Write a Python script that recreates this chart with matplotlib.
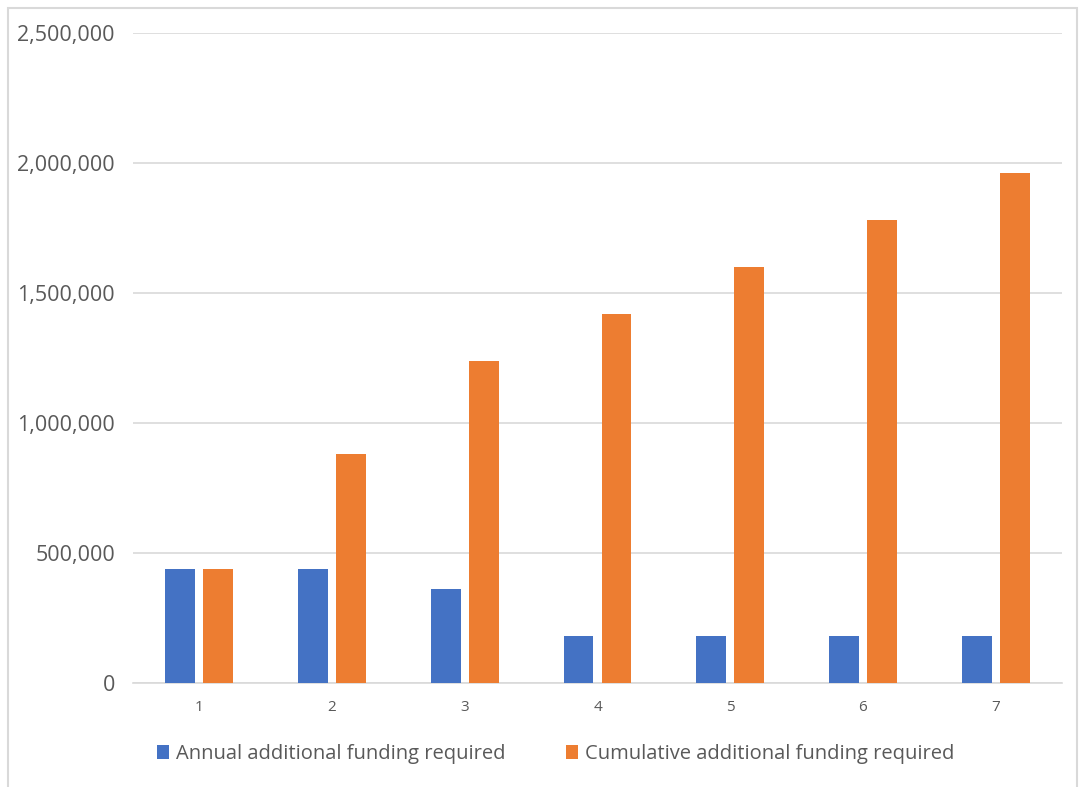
import matplotlib
matplotlib.use("Agg")
import matplotlib.pyplot as plt
import numpy as np
from matplotlib.patches import Patch, Rectangle
from matplotlib.ticker import FuncFormatter

categories = ["1", "2", "3", "4", "5", "6", "7"]
annual = [440000, 440000, 360000, 180000, 180000, 180000, 180000]
cumulative = [440000, 880000, 1240000, 1420000, 1600000, 1780000, 1960000]
series_names = ["Annual additional funding required", "Cumulative additional funding required"]

blue = "#4472C4"
orange = "#ED7D31"
grid_c = "#D9D9D9"
text_c = "#595959"

plt.rcParams['font.family'] = ['Open Sans', 'DejaVu Sans']

fig = plt.figure(figsize=(10.79, 7.87), dpi=100)
ax = fig.add_axes([133/1079, 1-683/787, (1062-133)/1079, (683-33)/787])

x = np.arange(len(categories))
w = 0.225
off = 0.143
ax.bar(x - off, annual, width=w, color=blue, zorder=3)
ax.bar(x + off, cumulative, width=w, color=orange, zorder=3)

ax.set_xlim(-0.5, len(categories) - 0.5)
ax.set_ylim(0, 2500000)
ax.set_yticks(np.arange(0, 2500001, 500000))
ax.yaxis.set_major_formatter(FuncFormatter(lambda v, p: f"{int(v):,}"))
ax.set_xticks(x)
ax.set_xticklabels(categories)
ax.grid(axis='y', color=grid_c, linewidth=1.2, zorder=0)
for s in ["top", "right", "left"]:
    ax.spines[s].set_visible(False)
ax.spines["bottom"].set_color(grid_c)
ax.spines["bottom"].set_linewidth(1.2)
ax.tick_params(axis='y', length=0, pad=13, labelsize=15.5, labelcolor=text_c)
ax.tick_params(axis='x', length=0, pad=12, labelsize=11, labelcolor=text_c)

handles = [Patch(facecolor=blue, edgecolor='none'), Patch(facecolor=orange, edgecolor='none')]
leg = fig.legend(handles, series_names, loc='center', bbox_to_anchor=(556/1079, 1-754/787),
                 ncol=2, frameon=False, fontsize=14.5, handlelength=0.6, handleheight=0.7,
                 handletextpad=0.35, columnspacing=3.0, labelcolor=text_c)

fig.patches.append(Rectangle((8/1079, -0.05), (1077-8)/1079, 1.05 - 8/787, transform=fig.transFigure,
                             fill=False, edgecolor=grid_c, linewidth=1.5))

fig.savefig("out.png", dpi=100)
